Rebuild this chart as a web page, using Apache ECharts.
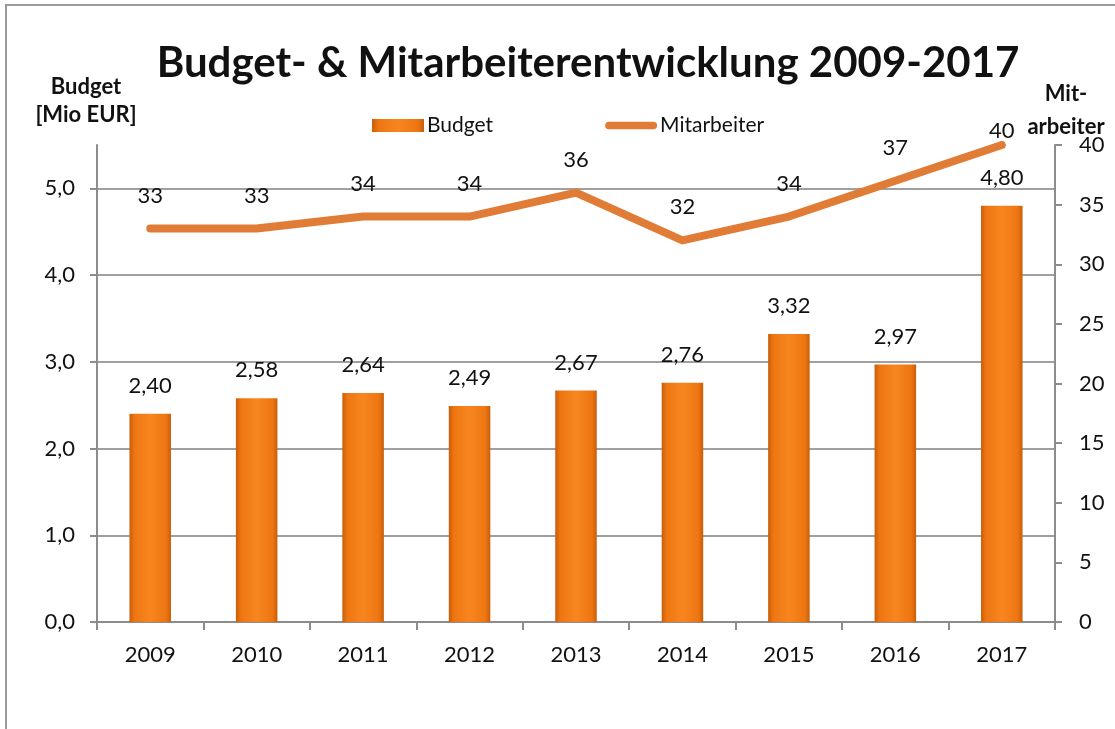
<!DOCTYPE html>
<html>
<head>
<meta charset="utf-8">
<script src="https://cdn.jsdelivr.net/npm/echarts@6/dist/echarts.min.js"></script>
<style>
html,body{margin:0;padding:0;background:#fff;}
#chart{width:1115px;height:729px;}
</style>
</head>
<body>
<div id="chart"></div>
<script>
var years = ['2009','2010','2011','2012','2013','2014','2015','2016','2017'];
var budget = [2.40, 2.58, 2.64, 2.49, 2.67, 2.76, 3.32, 2.97, 4.80];
var staff = [33, 33, 34, 34, 36, 32, 34, 37, 40];

var FONT = 'Lato, "Open Sans", sans-serif';
var fmtComma = function (v, d) { return Number(v).toFixed(d).replace('.', ','); };

// the last label sits close to the top of the plot area, as in the reference
var staffData = staff.map(function (v, i) {
  return i === staff.length - 1 ? { value: v, label: { distance: 3 } } : v;
});

var chart = echarts.init(document.getElementById('chart'));
chart.setOption({
  backgroundColor: '#fff',
  animation: false,
  textStyle: { fontFamily: FONT },
  title: [
    { text: 'Budget- & Mitarbeiterentwicklung 2009-2017', left: 583, top: 37, textAlign: 'center',
      textStyle: { fontFamily: FONT, fontWeight: 'bold', fontSize: 42, color: '#111' } },
    { text: 'Budget\n[Mio EUR]', left: 81, top: 68, textAlign: 'center',
      textStyle: { fontFamily: FONT, fontWeight: 'bold', fontSize: 22, lineHeight: 28, color: '#111' } },
    { text: 'Mit-\narbeiter', left: 1061, top: 72, textAlign: 'center',
      textStyle: { fontFamily: FONT, fontWeight: 'bold', fontSize: 22, lineHeight: 33, color: '#111' } }
  ],
  legend: {
    left: 367, top: 110, itemGap: 112, itemWidth: 52, itemHeight: 13,
    textStyle: { fontFamily: FONT, fontSize: 21, color: '#111', padding: [0, 0, 0, -2] },
    data: [
      { name: 'Budget', icon: 'rect' },
      { name: 'Mitarbeiter', icon: 'path://M4,0 h47 a4,4 0 0 1 0,8 h-47 a4,4 0 0 1 0,-8 z' }
    ]
  },
  graphic: [{
    type: 'polyline', silent: true,
    shape: { points: [[6, 729], [6, 5], [1115, 5]] },
    style: { stroke: '#9a9a9a', lineWidth: 2, fill: null }
  }],
  grid: { left: 97, right: 60, top: 145, bottom: 107, containLabel: false },
  xAxis: {
    type: 'category', data: years,
    axisLine: { lineStyle: { color: '#8c8c8c', width: 2 } },
    axisTick: { show: true, length: 8, lineStyle: { color: '#8c8c8c', width: 2 } },
    axisLabel: { margin: 22, fontSize: 22, color: '#111', fontFamily: FONT }
  },
  yAxis: [{
    type: 'value', min: 0, max: 5.5, interval: 1,
    axisLine: { show: true, lineStyle: { color: '#8c8c8c', width: 2 } },
    axisTick: { show: true, length: 7, lineStyle: { color: '#8c8c8c', width: 2 } },
    axisLabel: { margin: 22, fontSize: 22, color: '#111', fontFamily: FONT, showMaxLabel: false,
      formatter: function (v) { return v > 5.01 ? '' : fmtComma(v, 1); } },
    splitLine: { show: true, showMaxLine: false, lineStyle: { color: '#a0a0a0', width: 2 } }
  }, {
    type: 'value', min: 0, max: 40, interval: 5, position: 'right',
    axisLine: { show: true, lineStyle: { color: '#8c8c8c', width: 2 } },
    axisTick: { show: true, length: 7, lineStyle: { color: '#8c8c8c', width: 2 } },
    axisLabel: { margin: 24, fontSize: 22, color: '#111', fontFamily: FONT },
    splitLine: { show: false }
  }],
  series: [{
    name: 'Budget', type: 'bar', yAxisIndex: 0, data: budget, barWidth: '39%',
    itemStyle: {
      color: new echarts.graphic.LinearGradient(0, 0, 1, 0, [
        { offset: 0, color: '#c85e08' },
        { offset: 0.12, color: '#ee7612' },
        { offset: 0.5, color: '#f7861f' },
        { offset: 0.88, color: '#ee7612' },
        { offset: 1, color: '#c85e08' }
      ])
    },
    label: { show: true, position: 'top', distance: 17, fontSize: 22, color: '#111', fontFamily: FONT,
      formatter: function (p) { return fmtComma(p.value, 2); } }
  }, {
    name: 'Mitarbeiter', type: 'line', yAxisIndex: 1, data: staffData,
    symbol: 'circle', symbolSize: 0, showSymbol: true,
    lineStyle: { color: '#e07c35', width: 8, cap: 'round', join: 'round' },
    itemStyle: { color: '#e07c35' },
    label: { show: true, position: 'top', distance: 22, fontSize: 22, color: '#111', fontFamily: FONT }
  }]
});
</script>
</body>
</html>
